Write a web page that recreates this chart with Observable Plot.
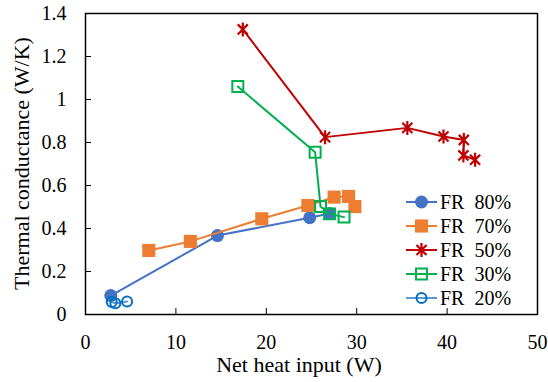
<!DOCTYPE html>
<html><head><meta charset="utf-8">
<script src="https://cdn.jsdelivr.net/npm/d3@7"></script>
<script src="https://cdn.jsdelivr.net/npm/@observablehq/plot@0.6"></script>
<style>
body{margin:0;background:#fff}
</style>
</head><body><div id="chart"></div>
<script>
// ---- data ----
const seriesNames = ["FR  80%", "FR  70%", "FR  50%", "FR  30%", "FR  20%"];
const fr80X = [2.8, 14.6, 24.8, 27.0];
const fr80Y = [0.088, 0.367, 0.45, 0.47];
const fr70X = [7.0, 11.6, 19.5, 24.6, 27.5, 29.1, 29.8];
const fr70Y = [0.298, 0.34, 0.445, 0.507, 0.546, 0.549, 0.502];
const fr50X = [17.4, 26.5, 35.6, 39.6, 41.85, 41.8, 43.1];
const fr50Y = [1.326, 0.825, 0.868, 0.828, 0.812, 0.74, 0.72];
const fr30X = [16.85, 25.4, 26.0, 27.0, 28.6];
const fr30Y = [1.06, 0.755, 0.502, 0.468, 0.453];
const fr20X = [2.9, 3.3, 4.6];
const fr20Y = [0.058, 0.052, 0.06];
const xTicks = [0, 10, 20, 30, 40, 50];
const yTicks = [0, 0.2, 0.4, 0.6, 0.8, 1, 1.2, 1.4];
const xLabel = "Net heat input (W)";
const yLabel = "Thermal conductance (W/K)";

const FONT = "'Liberation Serif', 'Times New Roman', 'DejaVu Serif', serif";

// Excel-like star marker: vertical bar + X
const star = {
  draw(context, size) {
    const r = Math.sqrt(size / Math.PI);
    const d = r * 0.72;
    context.moveTo(0, -r); context.lineTo(0, r);
    context.moveTo(-d, -d); context.lineTo(d, d);
    context.moveTo(-d, d); context.lineTo(d, -d);
  }
};

const series = [
  {name: seriesNames[0], xs: fr80X, ys: fr80Y, line: "#4472C4", symbol: "circle", fill: "#4472C4", stroke: "none", sw: 0, r: 6.5},
  {name: seriesNames[1], xs: fr70X, ys: fr70Y, line: "#ED7D31", symbol: "square", fill: "#ED7D31", stroke: "none", sw: 0, r: 7.4},
  {name: seriesNames[2], xs: fr50X, ys: fr50Y, line: "#C00000", symbol: star, fill: "none", stroke: "#C00000", sw: 2.2, r: 7},
  {name: seriesNames[3], xs: fr30X, ys: fr30Y, line: "#00B050", symbol: "square", fill: "none", stroke: "#00B050", sw: 2, r: 6.2},
  {name: seriesNames[4], xs: fr20X, ys: fr20Y, line: "#5B9BD5", symbol: "circle", fill: "none", stroke: "#0070C0", sw: 2, r: 5}
];

const marks = [];
for (const s of series) {
  const rows = s.xs.map((x, i) => ({x, y: s.ys[i]}));
  marks.push(Plot.line(rows, {x: "x", y: "y", stroke: s.line, strokeWidth: 2}));
  marks.push(Plot.dot(rows, {x: "x", y: "y", symbol: s.symbol, r: s.r, fill: s.fill, stroke: s.stroke, strokeWidth: s.sw}));
}

const chart = Plot.plot({
  width: 548, height: 382,
  marginLeft: 85, marginRight: 11, marginTop: 13, marginBottom: 68,
  x: {domain: [0, 50]},
  y: {domain: [0, 1.4]},
  style: `font-family: ${FONT}; font-size: 20px; color: #000; background: #fff; overflow: visible;`,
  marks: [
    Plot.axisX(xTicks, {tickSize: -6, tickPadding: 26, tickFormat: d => String(d), label: null}),
    Plot.axisY(yTicks, {tickSize: -6, tickPadding: 25, tickFormat: d3.format("~g"), label: null}),
    ...marks,
    Plot.frame({stroke: "#000", strokeWidth: 1.5})
  ]
});
document.getElementById("chart").appendChild(chart);

const svg = d3.select(chart);
// axis titles
svg.append("text").attr("x", 299).attr("y", 372)
  .style("text-anchor", "middle").style("font-size", "22px").attr("fill", "#000").text(xLabel);
svg.append("text").attr("transform", "translate(28.5,163.5) rotate(-90)")
  .style("text-anchor", "middle").style("font-size", "22px").attr("fill", "#000").text(yLabel);

// legend inside plot area
const lg = svg.append("g").attr("class", "legend");
series.forEach((s, i) => {
  const cy = 202 + 24 * i;
  const g = lg.append("g").attr("transform", `translate(0,${cy})`);
  g.append("line").attr("x1", 406).attr("x2", 437).attr("y1", 0).attr("y2", 0)
    .attr("stroke", s.line).attr("stroke-width", 2);
  const type = s.symbol === "circle" ? d3.symbolCircle : s.symbol === "square" ? d3.symbolSquare : s.symbol;
  g.append("path").attr("transform", "translate(421.5,0)")
    .attr("d", d3.symbol(type, Math.PI * s.r * s.r)())
    .attr("fill", s.fill).attr("stroke", s.stroke).attr("stroke-width", s.sw);
  g.append("text").attr("x", 440).attr("y", 7)
    .style("font-size", "20px").style("text-anchor", "start")
    .attr("fill", "#000").style("white-space", "pre").text(s.name);
});
svg.selectAll("text").style("font-family", FONT);
</script>
</body></html>
